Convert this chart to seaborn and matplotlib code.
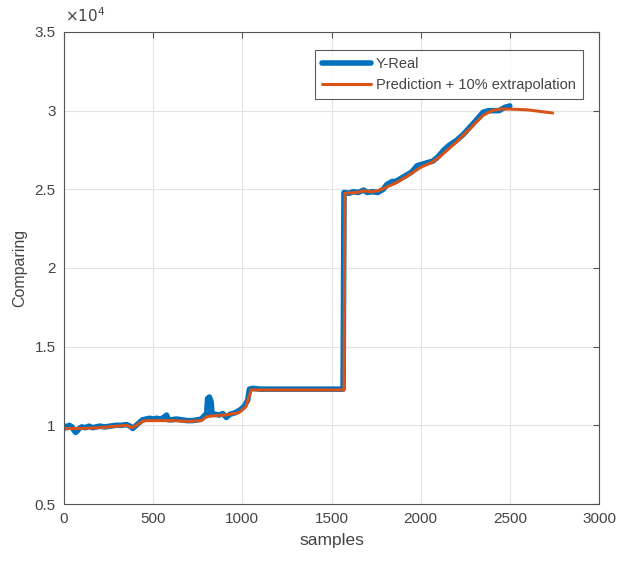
#plot.py
import numpy as np
import pandas as pd
import matplotlib
matplotlib.use("Agg")
import matplotlib.pyplot as plt
import seaborn as sns

#Datos (Y-Real)
x_real = [0, 10, 20, 30, 45, 55, 65, 75, 85, 100, 120, 140, 160, 180, 200, 230, 260,
          290, 320, 350, 370, 385, 400, 420, 440, 460, 480, 500, 520, 540, 560, 575,
          585, 600, 630, 660, 690, 720, 750, 770, 790, 800, 805, 815, 825, 830, 850,
          870, 890, 910, 930, 960, 990, 1010, 1030, 1040, 1060, 1100, 1200, 1300,
          1400, 1500, 1565, 1570, 1600, 1620, 1650, 1680, 1700, 1730, 1760, 1790,
          1810, 1840, 1860, 1890, 1920, 1950, 1980, 2010, 2040, 2070, 2100, 2130,
          2160, 2200, 2240, 2280, 2320, 2350, 2380, 2410, 2440, 2470, 2500]
y_real = [9800, 9950, 9850, 10000, 9900, 9700, 9550, 9650, 9800, 9900, 9850, 9950,
          9850, 9900, 9950, 9900, 9950, 10000, 10000, 10050, 9950, 9800, 9950, 10150,
          10350, 10400, 10450, 10400, 10450, 10400, 10500, 10650, 10350, 10350, 10400,
          10350, 10300, 10300, 10350, 10400, 10650, 10700, 11700, 11800, 11500, 10700,
          10700, 10650, 10750, 10500, 10700, 10800, 11000, 11200, 11600, 12300, 12350,
          12300, 12300, 12300, 12300, 12300, 12300, 24800, 24750, 24850, 24800, 24950,
          24800, 24850, 24800, 25000, 25300, 25500, 25500, 25700, 25900, 26100, 26500,
          26600, 26700, 26800, 27100, 27500, 27800, 28100, 28500, 29000, 29500, 29900,
          30000, 30000, 30000, 30200, 30300]

#Prediccion + 10% extrapolacion
x_pred = [0, 50, 100, 200, 300, 350, 380, 400, 440, 460, 600, 700, 770, 800, 830,
          900, 980, 1020, 1050, 1570, 1575, 1640, 1680, 1720, 1760, 1800, 1860, 1920,
          2000, 2060, 2100, 2200, 2280, 2350, 2400, 2450, 2500, 2600, 2740]
y_pred = [9800, 9800, 9800, 9850, 9950, 10000, 9850, 9950, 10250, 10300, 10300,
          10250, 10300, 10550, 10600, 10650, 10800, 11200, 12250, 12250, 24750, 24800,
          24900, 24850, 24900, 25100, 25400, 25800, 26400, 26700, 27000, 28000, 28900,
          29700, 30000, 30100, 30100, 30050, 29850]

df_real = pd.DataFrame({"samples": x_real, "valor": y_real})
df_pred = pd.DataFrame({"samples": x_pred, "valor": y_pred})

sns.set_style("white")
plt.rcParams["font.family"] = ["Liberation Sans", "DejaVu Sans"]
texto = "#444444"

fig = plt.figure(figsize=(6.19, 5.62), dpi=100)
ax = fig.add_axes([0.1034, 0.1032, 0.8643, 0.8399])

sns.lineplot(data=df_real, x="samples", y="valor", ax=ax, color="#0072BD",
             linewidth=4, estimator=None, sort=False, label="Y-Real")
sns.lineplot(data=df_pred, x="samples", y="valor", ax=ax, color="#D95319",
             linewidth=2.2, estimator=None, sort=False,
             label="Prediction + 10% extrapolation")

ax.set_xlim(0, 3000)
ax.set_ylim(5000, 35000)
ax.set_xticks(np.arange(0, 3001, 500))
ax.set_yticks(np.arange(5000, 35001, 5000))
ax.set_yticklabels([f"{v/1e4:g}" for v in np.arange(5000, 35001, 5000)])
ax.grid(True, color="#e3e3e3", linewidth=0.8)
ax.tick_params(direction="in", top=True, right=True, length=4, width=0.8,
               labelsize=11, colors="#555555", labelcolor=texto, pad=6)
for s in ax.spines.values():
    s.set_color("#555555")
    s.set_linewidth(0.8)

ax.set_xlabel("samples", fontsize=12.5, color=texto, labelpad=5)
ax.set_ylabel("Comparing", fontsize=11.5, color=texto, labelpad=5)
ax.text(0.002, 1.015, r"$\times10^{4}$", transform=ax.transAxes, fontsize=11,
        color=texto, ha="left", va="bottom")

leg = ax.legend(loc="upper right", bbox_to_anchor=(0.97, 0.962), fontsize=10.5,
                frameon=True, fancybox=False, handlelength=3.4, borderpad=0.5,
                labelspacing=0.45, handletextpad=0.3, borderaxespad=0)
leg.get_frame().set_edgecolor("#333333")
leg.get_frame().set_linewidth(0.8)
for t in leg.get_texts():
    t.set_color(texto)

fig.savefig("out.png", dpi=100)
